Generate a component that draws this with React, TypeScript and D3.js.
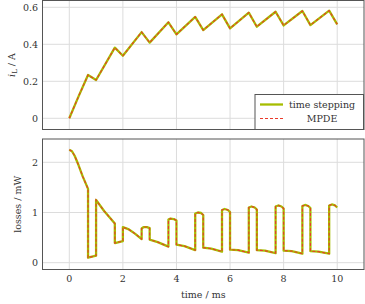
import React from 'react';
import * as d3 from 'd3';

// inductor current i_L [A] over time [ms]
const currentData: [number, number][] = [
  [0, 0], [0.35, 0.12], [0.7, 0.234], [1.0, 0.207], [1.7, 0.382], [2.0, 0.338],
  [2.7, 0.466], [3.0, 0.409], [3.7, 0.519], [4.0, 0.454], [4.7, 0.548], [5.0, 0.477],
  [5.7, 0.562], [6.0, 0.486], [6.7, 0.571], [7.0, 0.495], [7.7, 0.576], [8.0, 0.502],
  [8.7, 0.58], [9.0, 0.504], [9.7, 0.582], [10.0, 0.508],
];

// losses [mW] over time [ms]
const lossData: [number, number][] = [
  [0, 2.25], [0.1, 2.22], [0.2, 2.13], [0.34, 1.95], [0.5, 1.72], [0.7, 1.47],
  [0.7, 0.1], [1.0, 0.14], [1.0, 1.25], [1.3, 1.03], [1.7, 0.78],
  [1.7, 0.39], [2.0, 0.43], [2.0, 0.71], [2.2, 0.67], [2.45, 0.58], [2.7, 0.47],
  [2.7, 0.68], [2.78, 0.71], [2.9, 0.71], [3.0, 0.69],
  [3.0, 0.46], [3.3, 0.41], [3.7, 0.32], [3.7, 0.86], [3.78, 0.88], [3.9, 0.87], [4.0, 0.84],
  [4.0, 0.36], [4.3, 0.33], [4.7, 0.25], [4.7, 0.98], [4.8, 1.0], [4.92, 0.99], [5.0, 0.95],
  [5.0, 0.3], [5.3, 0.28], [5.7, 0.22], [5.7, 1.05], [5.8, 1.07], [5.92, 1.05], [6.0, 1.01],
  [6.0, 0.26], [6.3, 0.25], [6.7, 0.2], [6.7, 1.1], [6.8, 1.12], [6.92, 1.1], [7.0, 1.06],
  [7.0, 0.25], [7.3, 0.24], [7.7, 0.19], [7.7, 1.12], [7.8, 1.14], [7.92, 1.12], [8.0, 1.08],
  [8.0, 0.24], [8.3, 0.23], [8.7, 0.18], [8.7, 1.13], [8.8, 1.15], [8.92, 1.13], [9.0, 1.09],
  [9.0, 0.23], [9.3, 0.22], [9.7, 0.18], [9.7, 1.14], [9.8, 1.16], [9.92, 1.14], [10.0, 1.1],
];

const xTicks = [0, 2, 4, 6, 8, 10];
const currentTicks = [0, 0.2, 0.4, 0.6];
const lossTicks = [0, 1, 2];
const legendLabels = ['time stepping', 'MPDE'];

const W = 365;
const H = 304;
const FONT = 'DejaVu Serif';
const FS = 9.5;
const TXT = '#333';
const OLIVE = '#a6bd00';
const RED = '#ea3a2a';
const GRID = '#dcdcdc';
const FRAME = '#555555';

const left = 42.5;
const right = 364;
const top1 = 0.5, bottom1 = 129.5;
const top2 = 139, bottom2 = 269.5;

const x = d3.scaleLinear().domain([-1, 11]).range([left, right]);
const yCur = d3.scaleLinear().domain([0, 0.6]).range([118.3, 7.3]);
const yLoss = d3.scaleLinear().domain([0, 2]).range([262.7, 162.3]);

const Panel: React.FC<{
  y: d3.ScaleLinear<number, number>;
  data: [number, number][];
  ticks: number[];
  fmt: (v: number) => string;
  top: number;
  bottom: number;
}> = ({ y, data, ticks, fmt, top, bottom }) => {
  const line = d3.line<[number, number]>().x(d => x(d[0])).y(d => y(d[1]));
  const path = line(data) ?? '';
  return (
    <g>
      {xTicks.map(t => (
        <line key={'vx' + t} x1={x(t)} x2={x(t)} y1={top} y2={bottom} stroke={GRID} strokeWidth={1} />
      ))}
      {ticks.map(t => (
        <line key={'hy' + t} x1={left} x2={right} y1={y(t)} y2={y(t)} stroke={GRID} strokeWidth={1} />
      ))}
      {ticks.map(t => (
        <text key={'ty' + t} x={38} y={y(t)} dy="0.36em" textAnchor="end" fontFamily={FONT} fontSize={FS} fill={TXT}>
          {fmt(t)}
        </text>
      ))}
      <path d={path} fill="none" stroke={OLIVE} strokeWidth={2.3} strokeLinejoin="round" />
      <path d={path} fill="none" stroke={RED} strokeWidth={1.1} strokeDasharray="3,2" />
      <rect x={left} y={top} width={right - left} height={bottom - top} fill="none" stroke={FRAME} strokeWidth={1} />
    </g>
  );
};

export default function App() {
  const legX = 255, legY = 94.5, legW = 108.5, legH = 35;
  return (
    <svg width={W} height={H} style={{ position: 'absolute', left: 0, top: 0, background: '#fff' }}>
      <Panel y={yCur} data={currentData} ticks={currentTicks} fmt={v => (v === 0 ? '0' : v.toFixed(1))} top={top1} bottom={bottom1} />
      <Panel y={yLoss} data={lossData} ticks={lossTicks} fmt={v => String(v)} top={top2} bottom={bottom2} />

      {/* y labels */}
      <text transform={`translate(15, ${(top1 + bottom1) / 2}) rotate(-90)`} textAnchor="middle" fontFamily={FONT} fontSize={FS} fill={TXT}>
        <tspan fontStyle="italic">i</tspan>
        <tspan fontSize={7} dy={2}>L</tspan>
        <tspan dy={-2}> / A</tspan>
      </text>
      <text transform={`translate(21, ${(top2 + bottom2) / 2}) rotate(-90)`} textAnchor="middle" fontFamily={FONT} fontSize={FS} fill={TXT}>
        losses / mW
      </text>

      {/* x ticks and label */}
      {xTicks.map(t => (
        <text key={'tx' + t} x={x(t)} y={282} textAnchor="middle" fontFamily={FONT} fontSize={FS} fill={TXT}>{t}</text>
      ))}
      <text x={(left + right) / 2} y={298} textAnchor="middle" fontFamily={FONT} fontSize={FS} fill={TXT}>time / ms</text>

      {/* legend */}
      <rect x={legX} y={legY} width={legW} height={legH} fill="#fff" stroke={FRAME} strokeWidth={1} />
      <line x1={260} x2={283} y1={104.5} y2={104.5} stroke={OLIVE} strokeWidth={2.3} />
      <line x1={260} x2={283} y1={118.5} y2={118.5} stroke={RED} strokeWidth={1.1} strokeDasharray="3,2" />
      <text x={322} y={108} textAnchor="middle" fontFamily={FONT} fontSize={FS} fill={TXT}>{legendLabels[0]}</text>
      <text x={322} y={122} textAnchor="middle" fontFamily={FONT} fontSize={FS} fill={TXT}>{legendLabels[1]}</text>
    </svg>
  );
}
